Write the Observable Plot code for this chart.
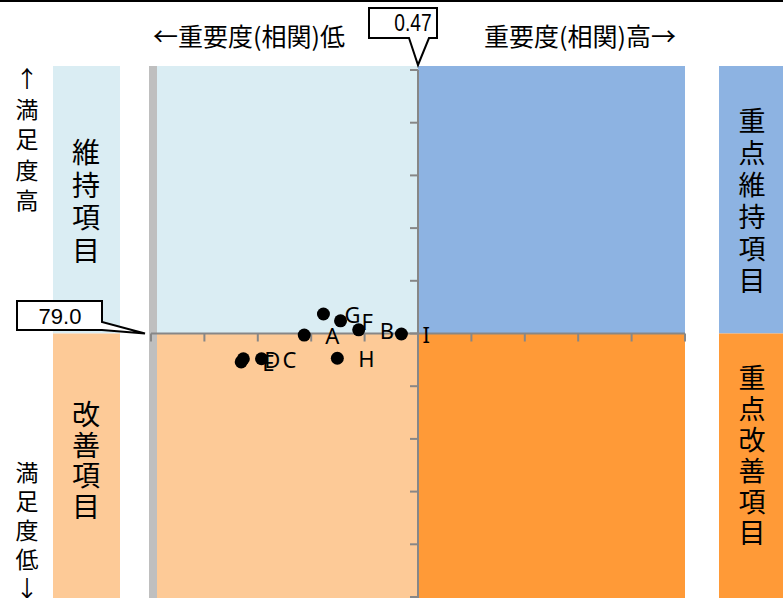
<!DOCTYPE html>
<html><head><meta charset="utf-8">
<script src="https://cdn.jsdelivr.net/npm/d3@7"></script>
<script src="https://cdn.jsdelivr.net/npm/@observablehq/plot@0.6"></script>
<style>html,body{margin:0;padding:0;background:#fff;overflow:hidden}svg{display:block}</style>
</head><body><div id="chart"></div>
<script>
// ---- data ----
const names        = ["A", "B", "C", "D", "E", "F", "G", "H", "I"];
const importance   = [0.363, 0.414, 0.323, 0.306, 0.304, 0.397, 0.381, 0.394, 0.454];
const satisfaction = [78.98, 79.08, 78.53, 78.53, 78.47, 79.25, 79.38, 78.54, 79.00];
const xCross = 0.47;           // 重要度 平均
const yCross = 79.0;           // 満足度 平均
const xDomain = [0.22, 0.72];
const yDomain = [74, 84];
const xTicks = [0.22, 0.27, 0.32, 0.37, 0.42, 0.47, 0.52, 0.57, 0.62, 0.67, 0.72];
const yTicks = [74, 75, 76, 77, 78, 79, 80, 81, 82, 83, 84];
const quadrantLabels = ["維持項目", "重点維持項目", "改善項目", "重点改善項目"];
const xTitleLow  = "←重要度(相関)低";
const xTitleHigh = "重要度(相関)高→";
const yTitleHigh = "↑満足度高";
const yTitleLow  = "満足度低↓";

// ---- styling ----
const JP = "'Noto Sans CJK JP', 'Noto Sans', sans-serif";
const LAT = "'Liberation Sans', Arial, sans-serif";
const C = {lightBlue: "#DAEDF3", blue: "#8DB3E2", lightOrange: "#FDCA97", orange: "#FF9A37", axis: "#878787", bar: "#BFBFBF"};

const points = names.map((n, i) => ({name: n, x: importance[i], y: satisfaction[i]}));
const quadrants = [
  {x1: xDomain[0], x2: xCross,     y1: yCross, y2: yDomain[1], fill: C.lightBlue,  top: true},
  {x1: xCross,     x2: xDomain[1], y1: yCross, y2: yDomain[1], fill: C.blue,       top: true},
  {x1: xDomain[0], x2: xCross,     y1: yDomain[0], y2: yCross, fill: C.lightOrange, top: false},
  {x1: xCross,     x2: xDomain[1], y1: yDomain[0], y2: yCross, fill: C.orange,      top: false}
];

function vtext(g, str, cx, y0, step, size) {
  const t = g.append("text").attr("text-anchor", "middle").attr("dominant-baseline", "central")
    .attr("font-family", JP).attr("font-size", size).attr("fill", "#000");
  Array.from(str).forEach((ch, i) => {
    t.append("tspan").attr("x", cx).attr("y", y0 + i * step).text(ch);
  });
}

// background decorations: side strips, titles
function decorations(index, scales, values, dims) {
  const {y} = scales;
  const g = d3.create("svg:g");
  const ym = y(yCross), yt = y(yDomain[1]) - 4, yb = dims.height;
  // top border line
  g.append("line").attr("x1", 0).attr("x2", dims.width).attr("y1", 1).attr("y2", 1).attr("stroke", "#000").attr("stroke-width", 2);
  // left strip
  g.append("rect").attr("x", 53).attr("width", 67).attr("y", yt).attr("height", ym - yt).attr("fill", C.lightBlue);
  g.append("rect").attr("x", 53).attr("width", 67).attr("y", ym).attr("height", yb - ym).attr("fill", C.lightOrange);
  // right strip
  g.append("rect").attr("x", 719).attr("width", 70).attr("y", yt).attr("height", ym - yt).attr("fill", C.blue);
  g.append("rect").attr("x", 719).attr("width", 70).attr("y", ym).attr("height", yb - ym).attr("fill", C.orange);
  // quadrant names
  vtext(g, quadrantLabels[0], 86, 151, 32.5, 28);
  vtext(g, quadrantLabels[2], 86, 413, 30.5, 28);
  vtext(g, quadrantLabels[1], 752, 119, 32, 27);
  vtext(g, quadrantLabels[3], 752, 376, 31, 27);
  // y titles
  vtext(g, yTitleHigh, 27, 77, 30.5, 23);
  vtext(g, yTitleLow, 27, 471, 29, 23);
  // x titles
  g.append("text").attr("x", 249).attr("y", 35).attr("text-anchor", "middle").attr("dominant-baseline", "central")
    .attr("font-family", JP).attr("font-size", 25).text(xTitleLow);
  g.append("text").attr("x", 580).attr("y", 35).attr("text-anchor", "middle").attr("dominant-baseline", "central")
    .attr("font-family", JP).attr("font-size", 25).text(xTitleHigh);
  return g.node();
}

// axes crossing at the averages, plus callouts
function crossAxes(index, scales, values, dims) {
  const {x, y} = scales;
  const g = d3.create("svg:g");
  const yt = y(yDomain[1]) - 4, yb = dims.height;
  const x0 = x(xCross), y0 = y(yCross);
  // gray left bar
  g.append("rect").attr("x", x(xDomain[0]) - 2).attr("width", 8).attr("y", yt).attr("height", yb - yt).attr("fill", C.bar);
  // axis lines
  g.append("line").attr("x1", x(xDomain[0])).attr("x2", x(xDomain[1])).attr("y1", y0).attr("y2", y0).attr("stroke", C.axis).attr("stroke-width", 2);
  g.append("line").attr("x1", x0).attr("x2", x0).attr("y1", y(yDomain[1])).attr("y2", yb).attr("stroke", C.axis).attr("stroke-width", 2);
  // ticks
  for (const t of xTicks) g.append("line").attr("x1", x(t)).attr("x2", x(t)).attr("y1", y0).attr("y2", y0 + 8).attr("stroke", C.axis).attr("stroke-width", 2);
  for (const t of yTicks) g.append("line").attr("x1", x0 - 8).attr("x2", x0).attr("y1", y(t)).attr("y2", y(t)).attr("stroke", C.axis).attr("stroke-width", 2);
  // callout for xCross
  const tipX = x0, tipY = yt - 1;
  g.append("path").attr("d", `M369,8 H437 V38 H429 L${tipX},${tipY} L409,38 H369 Z`)
    .attr("fill", "#fff").attr("stroke", "#000").attr("stroke-width", 2).attr("stroke-linejoin", "miter");
  g.append("text").attr("transform", "translate(413,23) scale(0.8,1)").attr("text-anchor", "middle").attr("dominant-baseline", "central")
    .attr("font-family", LAT).attr("font-size", "24px").style("font-size", "24px").text(d3.format(".2f")(xCross));
  // callout for yCross
  const tip2X = x(xDomain[0]) - 6, tip2Y = y0;
  g.append("path").attr("d", `M17,301 H102 V322 L${tip2X},${tip2Y} L102,330 H17 Z`)
    .attr("fill", "#fff").attr("stroke", "#000").attr("stroke-width", 2);
  g.append("text").attr("x", 60).attr("y", 316).attr("text-anchor", "middle").attr("dominant-baseline", "central")
    .attr("font-family", LAT).attr("font-size", "22px").style("font-size", "22px").text(yCross.toFixed(1));
  return g.node();
}

const chart = Plot.plot({
  width: 783, height: 598, margin: 0,
  x: {domain: xDomain, range: [151, 685], axis: null},
  y: {domain: yDomain, range: [597, 70], axis: null},
  color: {type: "identity"},
  style: {background: "#fff", overflow: "hidden"},
  marks: [
    decorations,
    Plot.rect(quadrants.filter(d => d.top), {x1: "x1", x2: "x2", y1: "y1", y2: "y2", fill: "fill", insetTop: -4}),
    Plot.rect(quadrants.filter(d => !d.top), {x1: "x1", x2: "x2", y1: "y1", y2: "y2", fill: "fill", insetBottom: -2}),
    crossAxes,
    Plot.text(points, {x: "x", y: "y", text: "name", textAnchor: "start", dx: 21, dy: 2, fontSize: 22, fontFamily: "'Noto Sans', sans-serif", fill: "#000"}),
    Plot.dot(points, {x: "x", y: "y", r: 6.5, fill: "#000", stroke: "none"})
  ]
});
document.getElementById("chart").append(chart);
</script>
</body></html>
